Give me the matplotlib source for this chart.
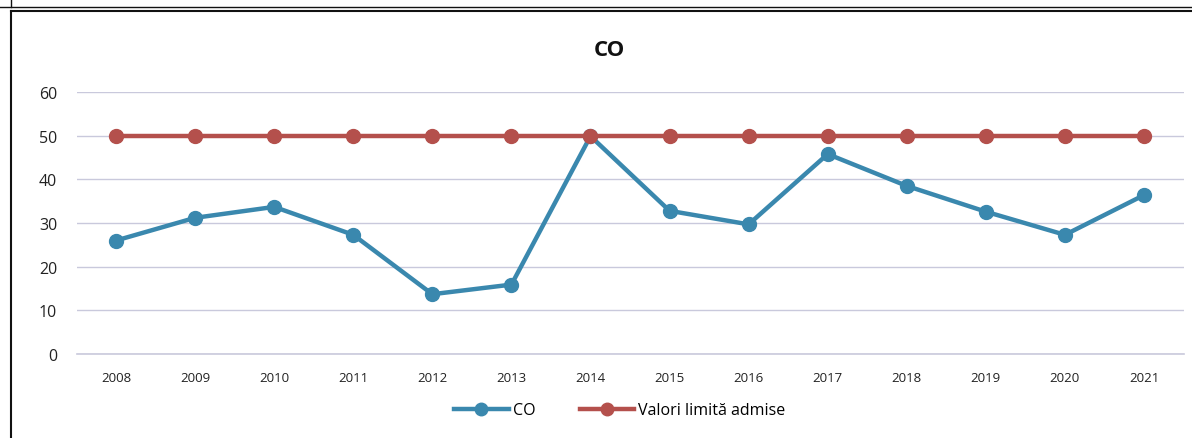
import matplotlib
matplotlib.use('Agg')
import matplotlib.pyplot as plt
from matplotlib.lines import Line2D

# data
years = ['2008', '2009', '2010', '2011', '2012', '2013', '2014',
         '2015', '2016', '2017', '2018', '2019', '2020', '2021']
co = [26.0, 31.2, 33.7, 27.3, 13.7, 15.9, 49.9,
      32.8, 29.7, 45.8, 38.5, 32.6, 27.3, 36.4]
limit = [50] * len(years)

blue = '#3a88ae'
red = '#b4504c'

plt.rcParams['font.family'] = ['Open Sans', 'DejaVu Sans']

fig = plt.figure(figsize=(11.92, 4.39), dpi=100)
ax = fig.add_axes([0.0642, 0.1913, 0.9287, 0.5967])

x = range(len(years))
ax.plot(x, co, color=blue, lw=3.2, marker='o', ms=10, label='CO', zorder=3)
ax.plot(x, limit, color=red, lw=3.2, marker='o', ms=10,
        label='Valori limită admise', zorder=3)

ax.set_xlim(-0.5, len(years) - 0.5)
ax.set_ylim(0, 60)
ax.set_yticks(range(0, 61, 10))
ax.set_xticks(list(x))
ax.set_xticklabels(years, fontsize=9.5)
ax.tick_params(axis='y', labelsize=11.5, length=0, pad=14, colors='#222222')
ax.tick_params(axis='x', length=0, pad=12, colors='#222222')
ax.grid(axis='y', color='#c9c9dc', lw=1)
ax.axhline(0, color='#c9c9dc', lw=1.2, clip_on=False, zorder=1)
ax.set_axisbelow(True)
for s in ax.spines.values():
    s.set_visible(False)

fig.text(0.511, 0.885, 'CO', ha='center', va='center', fontsize=16,
         fontweight='bold', color='#111111')

handles = [Line2D([], [], color=blue, lw=3.2, marker='o', ms=9),
           Line2D([], [], color=red, lw=3.2, marker='o', ms=9)]
fig.legend(handles, ['CO', 'Valori limită admise'], loc='center',
           bbox_to_anchor=(0.52, 0.063), ncol=2, frameon=False, fontsize=11.5,
           handlelength=3.4, columnspacing=2.8, handletextpad=0.25)

# scanned frame round the chart
fig.add_artist(Line2D([0.009, 0.009], [0.0, 0.972], color='#111111', lw=1.5,
                      transform=fig.transFigure))
fig.add_artist(Line2D([0.009, 1.0], [0.972, 0.972], color='#111111', lw=1.5,
                      transform=fig.transFigure))
fig.add_artist(Line2D([0.0, 1.0], [0.982, 0.982], color='#111111', lw=1.0,
                      transform=fig.transFigure))
fig.add_artist(Line2D([0.009, 0.009], [0.982, 1.0], color='#111111', lw=1.0,
                      transform=fig.transFigure))

fig.savefig('out.png', dpi=100)
